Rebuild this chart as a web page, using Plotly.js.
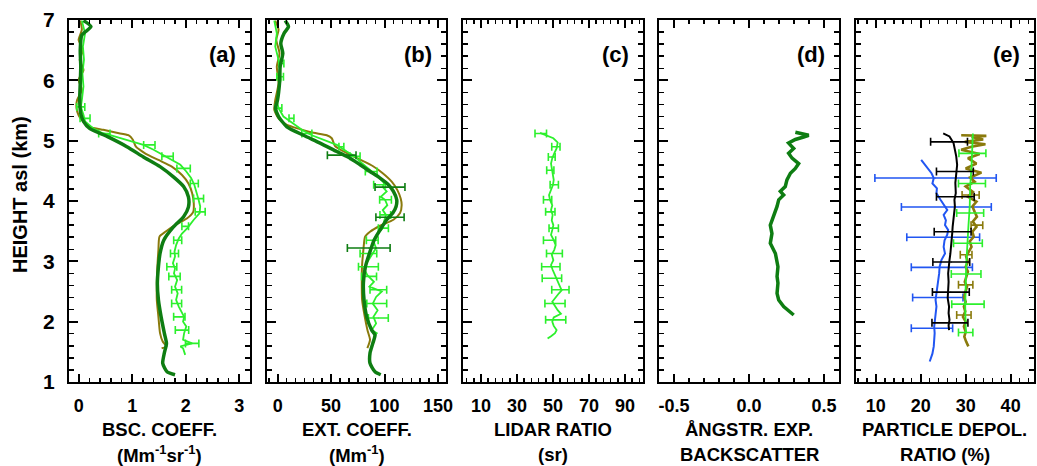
<!DOCTYPE html>
<html><head><meta charset="utf-8">
<script src="https://cdn.plot.ly/plotly-3.0.1.min.js"></script>
<style>html,body{margin:0;padding:0;background:#fff}#chart{width:1037px;height:466px}</style>
</head><body><div id="chart"></div>
<script>
// ---------- DATA ----------
// (a) backscatter coefficient (Mm-1 sr-1)
const aDarkH = [6.99,6.89,6.75,6.50,6.23,5.95,5.67,5.45,5.32,5.20,5.07,4.90,4.73,4.57,4.40,4.24,4.07,3.90,3.74,3.57,3.35,3.13,2.91,2.63,2.36,2.08,1.81,1.64,1.48,1.31,1.17,1.12];
const aDarkV = [0.09,0.23,0.06,0.03,0.04,0.03,0.02,0.04,0.09,0.21,0.53,0.90,1.21,1.52,1.77,1.96,2.05,2.05,1.96,1.77,1.59,1.52,1.49,1.47,1.49,1.54,1.60,1.64,1.60,1.57,1.65,1.80];
const aOliveH = [6.99,6.84,6.67,6.50,6.34,6.17,6.01,5.84,5.67,5.54,5.42,5.34,5.23,5.18,5.13,5.09,5.02,4.90,4.79,4.68,4.57,4.43,4.29,4.13,3.96,3.82,3.71,3.60,3.49,3.41,3.19,2.91,2.64,2.36,2.08,1.81,1.67,1.59,1.56];
const aOliveV = [0.03,0.06,0.00,0.08,0.02,0.09,0.00,0.06,-0.03,-0.04,0.00,0.06,0.21,0.46,0.71,0.93,1.01,1.07,1.24,1.49,1.74,1.93,2.05,2.12,2.15,2.14,2.02,1.80,1.62,1.51,1.49,1.47,1.46,1.46,1.49,1.52,1.57,1.64,1.55];
const aLimeH = [6.99,6.78,6.56,6.34,6.12,5.90,5.67,5.56,5.43,5.32,5.20,5.13,5.09,5.04,4.98,4.93,4.85,4.76,4.68,4.60,4.49,4.38,4.27,4.16,4.02,3.91,3.80,3.69,3.55,3.46,3.38,3.27,3.16,3.08,2.97,2.88,2.80,2.69,2.58,2.47,2.36,2.25,2.17,2.08,2.00,1.92,1.81,1.70,1.64,1.59,1.56,1.45];
const aLimeV = [0.06,0.12,0.08,0.10,0.07,0.09,0.06,0.04,0.09,0.12,0.28,0.43,0.59,0.78,0.99,1.21,1.40,1.59,1.74,1.90,2.01,2.10,2.16,2.20,2.24,2.27,2.26,2.15,2.03,1.93,1.87,1.82,1.79,1.80,1.76,1.80,1.78,1.84,1.80,1.85,1.82,1.87,1.91,1.97,1.95,2.01,1.97,1.95,2.12,1.90,1.95,1.99];
const aLimeErrH = [5.56,5.37,5.12,4.93,4.74,4.54,4.29,4.04,3.82,3.58,3.35,3.13,2.91,2.75,2.53,2.30,2.08,1.86,1.64];
const aLimeErrV = [0.04,0.12,0.48,1.32,1.66,1.96,2.16,2.24,2.27,1.99,1.85,1.79,1.74,1.79,1.83,1.83,1.88,1.93,2.12];
const aLimeErrE = [0.075,0.093,0.106,0.106,0.106,0.125,0.075,0.093,0.093,0.062,0.075,0.075,0.093,0.106,0.093,0.093,0.106,0.125,0.125];

// (b) extinction coefficient (Mm-1)
const bDarkH = [6.99,6.89,6.78,6.61,6.45,6.23,5.95,5.67,5.54,5.40,5.23,5.09,4.96,4.82,4.71,4.60,4.49,4.38,4.27,4.16,4.02,3.91,3.80,3.69,3.52,3.35,3.13,2.91,2.64,2.36,2.08,1.86,1.78,1.64,1.48,1.31,1.17,1.12];
const bDarkV = [7.0,10.1,6.0,2.9,4.8,2.3,1.7,-0.2,-2.0,0.8,8.6,24.1,39.7,55.3,67.8,77.1,86.4,95.8,103.6,108.3,111.4,110.8,107.7,102.0,95.8,90.2,85.8,82.1,80.2,80.8,83.3,88.0,91.1,89.0,86.4,86.4,91.1,96.4];
const bDarkErrH = [4.76,4.23,3.73,3.22];
const bDarkErrV = [59.9,105.1,105.1,85.2];
const bDarkErrE = [13.4,14.0,13.2,20.0];
const bOliveH = [6.99,6.84,6.67,6.45,6.23,5.95,5.67,5.51,5.37,5.26,5.19,5.13,5.09,5.04,4.91,4.80,4.69,4.58,4.46,4.32,4.18,4.04,3.93,3.80,3.69,3.59,3.49,3.41,3.19,2.91,2.64,2.36,2.08,1.86,1.70,1.56];
const bOliveV = [-2.3,0.8,-1.3,1.7,-0.8,0.8,-2.3,-3.2,0.8,8.6,21.0,33.5,45.9,50.6,53.7,64.0,76.5,88.9,98.3,106.7,112.0,115.1,116.0,114.5,108.3,95.8,86.4,81.8,80.2,78.9,78.7,79.0,81.5,84.0,86.4,83.9];
const bLimeH = [6.99,6.78,6.56,6.34,6.17,6.01,5.84,5.67,5.54,5.40,5.30,5.18,5.09,5.01,4.93,4.82,4.74,4.65,4.57,4.49,4.40,4.30,4.23,4.16,4.07,4.02,3.93,3.85,3.77,3.66,3.55,3.44,3.33,3.22,3.11,2.99,2.88,2.77,2.66,2.58,2.50,2.41,2.30,2.19,2.08,1.97,1.86,1.81,1.75];
const bLimeV = [-3.2,-0.8,-2.3,0.8,2.3,2.9,0.8,-0.8,0.8,5.4,13.2,22.6,31.9,44.4,55.3,64.6,72.4,77.1,82.7,88.9,94.2,99.5,98.3,102.0,96.4,100.5,102.6,98.3,101.4,99.5,98.3,92.7,89.6,92.1,88.0,83.9,80.8,83.9,90.1,85.8,97.4,92.1,89.0,93.5,89.6,92.1,88.0,92.7,89.6];
const bLimeErrH = [6.28,6.06,5.54,5.37,5.12,4.90,4.74,4.49,4.27,4.02,3.77,3.55,3.35,3.13,2.91,2.75,2.53,2.30,2.06];
const bLimeErrV = [3.5,2.3,0.8,12.9,27.3,59.6,72.4,87.5,95.3,100.9,100.7,98.9,88.5,84.9,84.9,85.5,94.2,92.7,94.2];
const bLimeErrE = [2.3,3.1,3.1,2.3,4.7,2.3,4.7,5.5,5.5,5.5,5.0,4.7,5.5,7.8,9.3,7.0,7.8,9.3,9.3];

// (c) lidar ratio (sr)
const cLimeH = [5.13,5.09,5.04,4.97,4.87,4.79,4.71,4.62,4.54,4.46,4.35,4.27,4.18,4.10,4.02,3.93,3.85,3.77,3.68,3.60,3.52,3.44,3.35,3.27,3.19,3.11,3.02,2.94,2.86,2.77,2.69,2.61,2.52,2.47,2.40,2.33,2.26,2.19,2.13,2.07,2.00,1.93,1.86,1.81,1.76,1.72];
const cLimeV = [42.8,46.5,50.2,52.6,52.0,50.7,49.6,48.9,49.3,49.8,50.4,50.0,48.9,47.8,48.3,49.6,48.9,49.8,49.3,50.2,49.6,48.9,50.4,51.5,50.7,49.3,50.2,48.9,49.8,51.1,52.2,53.3,54.8,53.3,51.5,49.6,51.1,52.6,54.4,50.4,49.6,50.4,52.0,51.1,48.9,47.0];
const cLimeErrH = [5.12,4.90,4.73,4.51,4.27,4.02,3.82,3.55,3.35,3.13,2.91,2.72,2.53,2.30,2.03];
const cLimeErrV = [43.2,51.6,49.3,48.5,50.7,47.0,48.5,50.4,48.1,50.8,48.8,49.4,54.1,51.1,51.5];
const cLimeErrE = [3.2,2.3,1.9,2.0,2.3,2.3,2.6,2.6,3.4,4.4,5.1,5.4,4.8,5.6,5.6];

// (d) Angstrom exponent (backscatter)
const dDarkH = [5.14,5.09,5.06,5.02,4.96,4.87,4.79,4.71,4.62,4.54,4.46,4.35,4.24,4.16,4.10,4.02,3.91,3.74,3.60,3.46,3.30,3.13,3.02,2.91,2.75,2.64,2.47,2.36,2.25,2.11];
const dDarkV = [0.309,0.398,0.364,0.309,0.264,0.298,0.264,0.287,0.331,0.309,0.276,0.253,0.242,0.209,0.231,0.198,0.187,0.164,0.142,0.153,0.142,0.176,0.187,0.193,0.187,0.193,0.187,0.198,0.231,0.298];

// (e) particle depolarization ratio (%)
const eBlackH = [5.12,5.07,4.96,4.85,4.74,4.60,4.46,4.30,4.13,4.02,3.91,3.80,3.68,3.57,3.46,3.35,3.24,3.13,3.02,2.91,2.80,2.66,2.53,2.39,2.25,2.14,2.03,1.94,1.86];
const eBlackV = [25.0,26.4,27.3,27.6,27.9,28.1,27.9,27.7,27.8,27.5,27.6,27.4,27.3,27.1,27.0,26.9,26.8,26.6,26.4,26.3,26.1,26.2,26.1,26.0,26.3,26.2,26.4,26.2,26.3];
const eBlackErrH = [4.98,4.49,4.07,3.49,2.99,2.49,1.98];
const eBlackErrV = [26.3,27.6,27.7,27.1,26.8,26.7,26.5];
const eBlackErrE = [4.1,4.1,4.2,4.1,4.1,4.1,4.0];
const eBlueH = [4.68,4.62,4.54,4.46,4.38,4.29,4.21,4.13,4.02,3.93,3.85,3.77,3.68,3.60,3.52,3.44,3.35,3.24,3.13,3.02,2.91,2.80,2.69,2.58,2.47,2.36,2.25,2.14,2.03,1.92,1.81,1.70,1.59,1.47,1.34];
const eBlueV = [20.1,20.7,21.4,22.4,22.9,22.6,23.6,23.5,24.4,25.1,25.9,25.1,25.6,25.4,26.1,25.9,25.3,25.1,25.4,24.6,24.2,24.1,23.9,23.6,23.5,23.3,23.5,23.3,23.1,23.0,23.1,23.0,22.9,22.6,22.0];
const eBlueErrH = [4.38,3.90,3.40,2.90,2.40,1.89];
const eBlueErrV = [23.3,25.7,25.0,24.7,23.8,22.5];
const eBlueErrE = [13.5,10.0,8.1,6.8,5.6,4.6];
const eOliveH = [5.09,5.08,5.06,5.02,4.98,4.94,4.90,4.85,4.78,4.71,4.62,4.54,4.47,4.39,4.32,4.24,4.15,4.07,3.99,3.91,3.82,3.74,3.66,3.57,3.49,3.41,3.33,3.24,3.16,3.08,2.99,2.91,2.83,2.75,2.66,2.58,2.50,2.41,2.33,2.25,2.17,2.08,2.00,1.92,1.83,1.75,1.67,1.59];
const eOliveV = [29.0,34.6,31.3,33.9,29.8,34.4,31.3,29.0,33.1,30.5,32.4,30.0,33.5,31.0,32.0,30.0,31.6,30.5,32.4,31.5,32.0,32.5,31.6,32.4,31.5,31.8,30.9,31.3,30.7,30.1,30.5,30.0,30.5,30.1,29.8,30.3,29.9,29.6,30.0,29.6,29.9,29.4,30.0,29.6,30.0,29.7,30.1,30.6];
const eOliveErrH = [4.10,3.60,3.11,2.61,2.11];
const eOliveErrV = [31.1,32.5,30.1,30.0,29.6];
const eOliveErrE = [1.9,1.3,1.3,1.6,1.6];
const eLimeH = [5.12,4.90,4.57,4.24,3.91,3.57,3.24,2.91,2.58,2.25,1.92,1.81];
const eLimeV = [31.6,31.5,31.3,31.0,30.9,30.6,30.3,30.1,30.0,29.9,30.0,30.1];
const eLimeErrH = [4.79,4.29,3.80,3.30,2.79,2.29,1.82];
const eLimeErrV = [31.5,31.4,31.0,30.5,30.1,30.5,30.0];
const eLimeErrE = [3.0,3.0,3.0,3.2,3.3,3.6,1.6];

const panelLabels = ['(a)','(b)','(c)','(d)','(e)'];
const xTitles = [['BSC. COEFF.','(Mm<sup>-1</sup>sr<sup>-1</sup>)'],['EXT. COEFF.','(Mm<sup>-1</sup>)'],['LIDAR RATIO','(sr)'],['ÅNGSTR. EXP.','BACKSCATTER'],['PARTICLE DEPOL.','RATIO (%)']];
const yTitle = 'HEIGHT asl (km)';

// ---------- STYLE ----------
const DARK = '#0e7d12', LIME = '#2cf02c', OLIVE = '#8a7a0c', BLUE = '#2156f2', BLACK = '#000000';
const SANS = '"Liberation Sans", Arial, sans-serif';

function line(xa, h, v, color, w, smooth) {
  return {x: v, y: h, xaxis: xa.x, yaxis: xa.y, mode: 'lines',
    line: smooth ? {color: color, width: w, shape: 'spline', smoothing: 0.6} : {color: color, width: w},
    hoverinfo: 'skip', showlegend: false};
}
function errs(xa, h, v, e, color) {
  return {x: v, y: h, xaxis: xa.x, yaxis: xa.y, mode: 'markers', marker: {size: 1, color: color},
    error_x: {type: 'data', array: e, visible: true, color: color, thickness: 1.6, width: 4}, hoverinfo: 'skip', showlegend: false};
}
const A = {x: 'x', y: 'y'}, B = {x: 'x2', y: 'y2'}, C = {x: 'x3', y: 'y3'}, D = {x: 'x4', y: 'y4'}, E = {x: 'x5', y: 'y5'};

const traces = [
  line(A, aOliveH, aOliveV, OLIVE, 2, true),
  line(A, aLimeH, aLimeV, LIME, 1.8, false),
  errs(A, aLimeErrH, aLimeErrV, aLimeErrE, LIME),
  line(A, aDarkH, aDarkV, DARK, 3.5, true),
  line(B, bOliveH, bOliveV, OLIVE, 2, true),
  line(B, bLimeH, bLimeV, LIME, 1.8, false),
  errs(B, bLimeErrH, bLimeErrV, bLimeErrE, LIME),
  line(B, bDarkH, bDarkV, DARK, 3.5, true),
  errs(B, bDarkErrH, bDarkErrV, bDarkErrE, DARK),
  line(C, cLimeH, cLimeV, LIME, 1.8, false),
  errs(C, cLimeErrH, cLimeErrV, cLimeErrE, LIME),
  line(D, dDarkH, dDarkV, DARK, 3.5, false),
  line(E, eBlueH, eBlueV, BLUE, 2, false),
  errs(E, eBlueErrH, eBlueErrV, eBlueErrE, BLUE),
  line(E, eOliveH, eOliveV, OLIVE, 2.6, false),
  errs(E, eOliveErrH, eOliveErrV, eOliveErrE, OLIVE),
  line(E, eLimeH, eLimeV, LIME, 1.8, false),
  errs(E, eLimeErrH, eLimeErrV, eLimeErrE, LIME),
  line(E, eBlackH, eBlackV, BLACK, 2, false),
  errs(E, eBlackErrH, eBlackErrV, eBlackErrE, BLACK)
];

// ---------- LAYOUT ----------
const L = 69, R = 1034, W = R - L;
const boxes = [[69,250],[267,446],[463,643],[659,839],[856,1034]];
const dom = boxes.map(b => [(b[0]-L)/W, (b[1]-L)/W]);
const xSpecs = [
  {range: [-0.18, 3.2], tickvals: [0,1,2,3], ticktext: ['0','1','2','3'], minor: 0.2, tick0: 0},
  {range: [-10, 157.5], tickvals: [0,50,100,150], ticktext: ['0','50','100','150'], minor: 50/6, tick0: 0},
  {range: [0, 100], tickvals: [10,30,50,70,90], ticktext: ['10','30','50','70','90'], minor: 4, tick0: 10},
  {range: [-0.6, 0.6], tickvals: [-0.5,0,0.5], ticktext: ['-0.5','0.0','0.5'], minor: 0.1, tick0: 0},
  {range: [5.6, 45.2], tickvals: [10,20,30,40], ticktext: ['10','20','30','40'], minor: 2, tick0: 10}
];
const layout = {
  width: 1037, height: 466,
  margin: {l: L, r: 1037 - R, t: 20, b: 84},
  paper_bgcolor: '#fff', plot_bgcolor: '#fff',
  showlegend: false,
  annotations: []
};
const axisCommon = {
  showgrid: false, zeroline: false, showline: true, linecolor: '#000', linewidth: 2,
  mirror: 'ticks', ticks: 'inside', tickcolor: '#000', tickwidth: 2, fixedrange: true
};
xSpecs.forEach((s, i) => {
  const k = i === 0 ? '' : String(i + 1);
  layout['xaxis' + k] = Object.assign({}, axisCommon, {
    domain: dom[i], anchor: 'y' + k, range: s.range, tickmode: 'array', tickvals: s.tickvals, ticktext: s.ticktext,
    ticklen: 8, ticklabelstandoff: 6,
    tickfont: {family: SANS, size: 18, color: '#000', weight: 'bold'},
    minor: {ticks: 'inside', ticklen: 4, tickwidth: 1.5, tickcolor: '#000', dtick: s.minor, tick0: s.tick0}
  });
  layout['yaxis' + k] = Object.assign({}, axisCommon, {
    domain: [0, 1], anchor: 'x' + k, range: [1, 7], dtick: 1, tick0: 0, ticklen: 9,
    showticklabels: i === 0, ticklabelstandoff: 8,
    tickfont: {family: SANS, size: 21, color: '#000', weight: 'bold'},
    minor: {ticks: 'inside', ticklen: 5, tickwidth: 1.5, tickcolor: '#000', dtick: 0.2}
  });
  if (i > 0) layout['yaxis' + k].matches = 'y';
  layout.annotations.push({
    text: panelLabels[i], xref: 'x' + k + ' domain', yref: 'y' + k + ' domain', x: 1, y: 1,
    xanchor: 'right', yanchor: 'top', xshift: -12, yshift: -20, showarrow: false,
    font: {family: SANS, size: 22, color: '#000', weight: 'bold'}
  });
  const cx = (dom[i][0] + dom[i][1]) / 2;
  layout.annotations.push({
    text: xTitles[i][0], xref: 'paper', yref: 'paper', x: cx, y: (382 - 429) / 362,
    xanchor: 'center', yanchor: 'middle', showarrow: false,
    font: {family: SANS, size: 18.5, color: '#000', weight: 'bold'}
  });
  layout.annotations.push({
    text: xTitles[i][1], xref: 'paper', yref: 'paper', x: cx, y: (382 - 454) / 362,
    xanchor: 'center', yanchor: 'middle', showarrow: false,
    font: {family: SANS, size: 18.5, color: '#000', weight: 'bold'}
  });
});
layout.annotations.push({
  text: yTitle, xref: 'paper', yref: 'paper', x: (20 - L) / W, y: (382 - 195) / 362,
  xanchor: 'center', yanchor: 'middle', textangle: -90, showarrow: false,
  font: {family: SANS, size: 20, color: '#000', weight: 'bold'}
});

Plotly.newPlot('chart', traces, layout, {staticPlot: true, displayModeBar: false});
</script>
</body></html>
